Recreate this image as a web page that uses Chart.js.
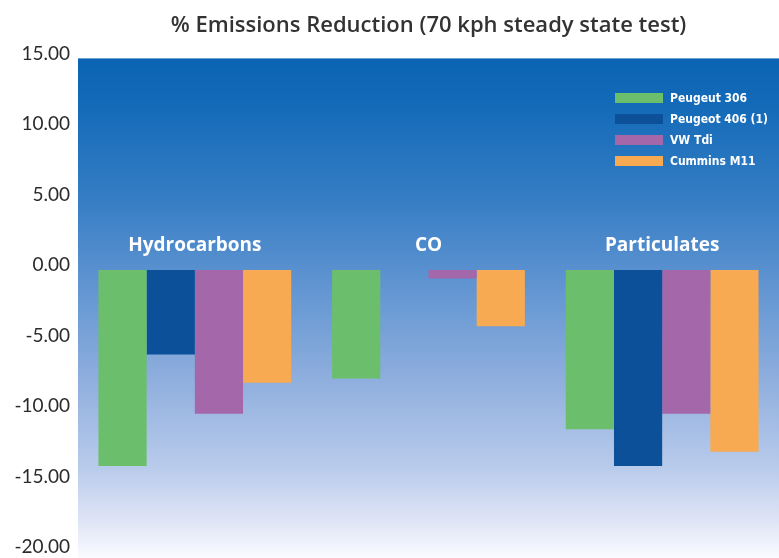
<!DOCTYPE html>
<html>
<head>
<meta charset="utf-8">
<script src="https://cdn.jsdelivr.net/npm/chart.js@4/dist/chart.umd.min.js"></script>
<style>
  body { margin: 0; background: #fff; }
  .wrap { position: relative; width: 779px; height: 558px; }
  .legend { position: absolute; left: 615px; top: 87px; }
  .legend-row { display: flex; align-items: center; height: 21px; }
  .legend-box { width: 48px; height: 10px; margin-right: 7px; }
  .legend-text {
    color: #fff; font-family: "Liberation Sans Narrow", "DejaVu Sans Condensed", Lato, sans-serif;
    font-weight: bold; font-size: 12px; white-space: nowrap;
  }
</style>
</head>
<body>
<div class="wrap">
  <canvas id="myChart"></canvas>
  <div class="legend" id="legend"></div>
</div>
<script>
const categories = ['Hydrocarbons', 'CO', 'Particulates'];
const seriesNames = ['Peugeut 306', 'Peugeot 406 (1)', 'VW Tdi', 'Cummins M11'];
const peugeot306 = [-13.9, -7.7, -11.3];
const peugeot406 = [-6.0, null, -13.9];
const vwTdi = [-10.2, -0.6, -10.2];
const cumminsM11 = [-8.0, -4.0, -12.9];
const yTicks = [15, 10, 5, 0, -5, -10, -15, -20];

const colors = ['#6bbf6c', '#0b5099', '#a367aa', '#f7aa52'];
const seriesData = [peugeot306, peugeot406, vwTdi, cumminsM11];

// blue to white fill behind the plot
const plotBackground = {
  id: 'plotBackground',
  beforeDraw(chart) {
    const { ctx, chartArea } = chart;
    const bottom = chart.height;
    const g = ctx.createLinearGradient(0, chartArea.top, 0, bottom);
    g.addColorStop(0, '#0b63b3');
    g.addColorStop(0.09, '#136ab8');
    g.addColorStop(0.28, '#357dc4');
    g.addColorStop(0.42, '#5890cf');
    g.addColorStop(0.64, '#8eaedd');
    g.addColorStop(0.82, '#b9cbeb');
    g.addColorStop(0.92, '#dde3f5');
    g.addColorStop(1, '#fafbff');
    ctx.save();
    ctx.fillStyle = g;
    ctx.fillRect(chartArea.left, chartArea.top, chartArea.right - chartArea.left, bottom - chartArea.top);
    ctx.restore();
  }
};

const datasets = seriesNames.map((name, i) => {
  return {
    label: name,
    data: seriesData[i],
    backgroundColor: colors[i],
    borderWidth: 0,
    barPercentage: 1,
    categoryPercentage: 0.825
  };
});

const ctx = document.getElementById('myChart').getContext('2d');
const chart = new Chart(ctx, {
  type: 'bar',
  data: {
    labels: categories,
    datasets: datasets
  },
  options: {
    responsive: true,
    maintainAspectRatio: false,
    animation: false,
    layout: {
      padding: { left: 0, right: 0, top: 0, bottom: 6 }
    },
    plugins: {
      legend: { display: false },
      tooltip: { enabled: false },
      title: {
        display: true,
        fullSize: false,
        text: '% Emissions Reduction (70 kph steady state test)',
        color: '#333',
        font: { family: 'Open Sans', size: 22, weight: '600' },
        padding: { top: 13, bottom: 19 }
      }
    },
    scales: {
      x: {
        position: { y: 0 },
        grid: { display: false, drawTicks: false },
        border: { display: false },
        ticks: {
          color: '#fff',
          font: { family: 'Open Sans', size: 19, weight: 'bold' },
          padding: -36,
          maxRotation: 0,
          autoSkip: false
        },
        afterFit: (scale) => {
          scale.height = 0;
          scale.paddingLeft = 0;
          scale.paddingRight = 0;
        }
      },
      y: {
        min: -20,
        max: 15,
        grid: { display: false, drawTicks: false },
        border: { display: false },
        afterBuildTicks: (scale) => {
          scale.ticks = yTicks.map(v => ({ value: v }));
        },
        ticks: {
          color: '#2b2b2b',
          font: { family: 'Lato', size: 19 },
          padding: 8,
          labelOffset: -5,
          callback: (v) => Number(v).toFixed(2)
        },
        afterFit: (scale) => {
          scale.width = 78;
          scale.paddingTop = 0;
          scale.paddingBottom = 0;
        }
      }
    }
  },
  plugins: [plotBackground]
});

// html legend built from the same series
const legendEl = document.getElementById('legend');
seriesNames.forEach((name, i) => {
  const row = document.createElement('div');
  row.className = 'legend-row';
  row.innerHTML = '<span class="legend-box" style="background:' + colors[i] + '"></span>' +
    '<span class="legend-text">' + name + '</span>';
  legendEl.appendChild(row);
});
</script>
</body>
</html>
